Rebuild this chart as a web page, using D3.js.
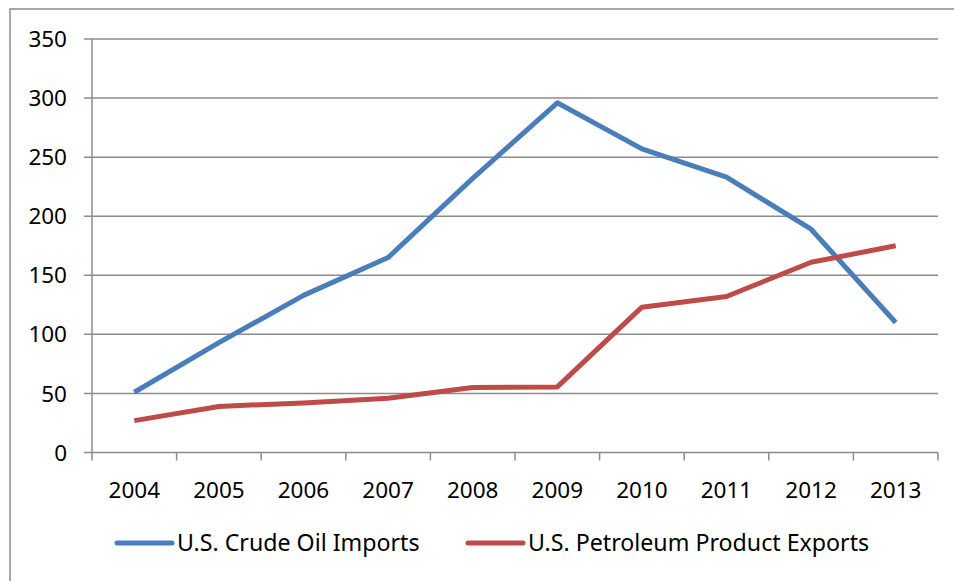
<!DOCTYPE html>
<html>
<head>
<meta charset="utf-8">
<script src="https://cdn.jsdelivr.net/npm/d3@7"></script>
<style>
  body { margin: 0; background: #fff; }
  text { font-family: "Noto Sans", "Open Sans", sans-serif; fill: #000; }
</style>
</head>
<body>
<script>
var years = ["2004", "2005", "2006", "2007", "2008", "2009", "2010", "2011", "2012", "2013"];
var crudeImports = [51, 93, 133, 165, 232, 296, 257, 233, 189, 110];
var productExports = [27, 39, 42, 46, 55, 55.5, 123, 132, 161, 175];
var yTicks = [0, 50, 100, 150, 200, 250, 300, 350];
var seriesNames = ["U.S. Crude Oil Imports", "U.S. Petroleum Product Exports"];

var width = 954, height = 581;
var plotLeft = 92, plotRight = 938, plotTop = 39, plotBottom = 452.5;

var svg = d3.select("body").append("svg")
    .attr("width", width)
    .attr("height", height);

// outer chart border (only left/top are visible in the frame)
svg.append("rect")
    .attr("x", 10).attr("y", 9)
    .attr("width", 960).attr("height", 600)
    .attr("fill", "#fff")
    .attr("stroke", "#8c8c8c")
    .attr("stroke-width", 1.5);

var x = d3.scaleBand().domain(years).range([plotLeft, plotRight]);
var y = d3.scaleLinear().domain([0, 350]).range([plotBottom, plotTop]);

// gridlines + y ticks
svg.append("g")
    .selectAll("line")
    .data(yTicks)
    .enter().append("line")
    .attr("x1", plotLeft - 8).attr("x2", plotRight)
    .attr("y1", function(d) { return y(d); })
    .attr("y2", function(d) { return y(d); })
    .style("stroke", "#8c8c8c")
    .style("stroke-width", 1.5);

svg.append("g")
    .selectAll("text")
    .data(yTicks)
    .enter().append("text")
    .attr("x", 67)
    .attr("y", function(d) { return y(d); })
    .attr("dy", "0.36em")
    .attr("text-anchor", "end")
    .style("font-size", "22.5px")
    .text(function(d) { return d; });

// y axis line
svg.append("line")
    .attr("x1", plotLeft).attr("x2", plotLeft)
    .attr("y1", plotTop).attr("y2", plotBottom)
    .style("stroke", "#8c8c8c")
    .style("stroke-width", 1.5);

// x ticks between categories
var xEdges = years.map(function(d) { return x(d); }).concat([plotRight]);
svg.append("g")
    .selectAll("line")
    .data(xEdges)
    .enter().append("line")
    .attr("x1", function(d) { return d; })
    .attr("x2", function(d) { return d; })
    .attr("y1", plotBottom).attr("y2", plotBottom + 8)
    .style("stroke", "#8c8c8c")
    .style("stroke-width", 1.5);

svg.append("g")
    .selectAll("text")
    .data(years)
    .enter().append("text")
    .attr("x", function(d) { return x(d) + x.bandwidth() / 2; })
    .attr("y", 498)
    .attr("text-anchor", "middle")
    .style("font-size", "22.5px")
    .text(function(d) { return d; });

var line = d3.line()
    .x(function(d, i) { return x(years[i]) + x.bandwidth() / 2; })
    .y(function(d) { return y(d); });

var colors = ["#4a7ebb", "#be4b48"];
[crudeImports, productExports].forEach(function(s, i) {
    svg.append("path")
        .datum(s)
        .attr("d", line)
        .attr("fill", "none")
        .attr("stroke", colors[i])
        .attr("stroke-width", 5)
        .attr("stroke-linejoin", "round");
});

// legend
var legendX = [117, 468];
seriesNames.forEach(function(name, i) {
    svg.append("line")
        .attr("x1", legendX[i]).attr("x2", legendX[i] + 55)
        .attr("y1", 543).attr("y2", 543)
        .attr("stroke", colors[i])
        .attr("stroke-width", 5)
        .attr("stroke-linecap", "round");
    svg.append("text")
        .attr("x", legendX[i] + 60)
        .attr("y", 543)
        .attr("dy", "0.36em")
        .style("font-size", "23.2px")
        .text(name);
});
</script>
</body>
</html>
